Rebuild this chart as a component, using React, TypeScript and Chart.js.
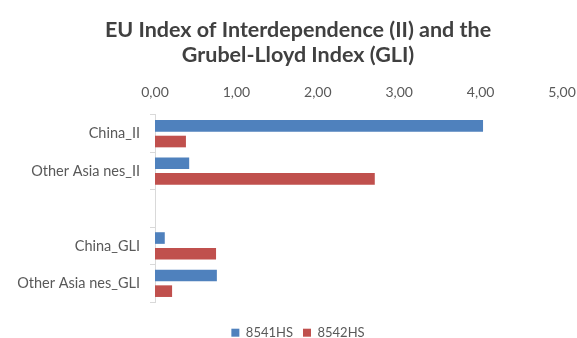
import React, { useEffect, useRef } from "react";
import { Chart, registerables } from "chart.js";

Chart.register(...registerables);

const categories = ["China_II", "Other Asia nes_II", "", "China_GLI", "Other Asia nes_GLI"];
const series8541 = [4.03, 0.42, null, 0.12, 0.76];
const series8542 = [0.38, 2.7, null, 0.75, 0.21];
const seriesNames = ["8541HS", "8542HS"];
const titleLines = ["EU Index of Interdependence (II) and the", "Grubel-Lloyd Index (GLI)"];
const xTickValues = [0, 1, 2, 3, 4, 5];

const shiftPlugin = {
  id: "shiftHeaderFooter",
  afterLayout(chart: any) {
    for (const b of [chart.titleBlock, chart.legend]) {
      if (b) {
        b.left += 10;
        b.right += 10;
      }
    }
  },
};

export default function App() {
  const ref = useRef<HTMLCanvasElement | null>(null);
  useEffect(() => {
    document.body.style.margin = "0";
    const ctx = ref.current!;
    const chart = new Chart(ctx, {
      type: "bar",
      plugins: [shiftPlugin],
      data: {
        labels: categories,
        datasets: [
          { label: seriesNames[0], data: series8541, backgroundColor: "#4F81BD", categoryPercentage: 0.84, barPercentage: 0.74 },
          { label: seriesNames[1], data: series8542, backgroundColor: "#C0504D", categoryPercentage: 0.84, barPercentage: 0.74 },
        ],
      },
      options: {
        indexAxis: "y",
        animation: false,
        responsive: false,
        maintainAspectRatio: false,
        layout: { padding: { left: 14, right: 15, top: 0, bottom: 0 } },
        plugins: {
          title: {
            display: true,
            text: titleLines,
            color: "#404040",
            font: { family: "Lato", size: 21.5, weight: "bold", lineHeight: 1.19 },
            padding: { top: 17, bottom: 2 },
          },
          legend: {
            position: "bottom",
            maxHeight: 36,
            title: { display: true, text: " ", font: { size: 1 }, padding: { top: 13, bottom: 0 } },
            labels: {
              boxWidth: 8,
              boxHeight: 8,
              color: "#595959",
              font: { family: "Lato", size: 13 },
              padding: 10,
            },
          },
          tooltip: { enabled: false },
        },
        scales: {
          x: {
            position: "top",
            min: xTickValues[0],
            max: xTickValues[xTickValues.length - 1],
            afterFit: (s: any) => { s.paddingLeft = 0; s.paddingRight = 0; },
            ticks: {
              stepSize: 1,
              color: "#595959",
              font: { family: "Lato", size: 14 },
              padding: 14,
              callback: (v: any) => Number(v).toFixed(2).replace(".", ","),
            },
            grid: { display: false, drawTicks: false },
            border: { display: false },
          },
          y: {
            afterFit: (s: any) => { s.width = 141; },
            ticks: { color: "#595959", font: { family: "Lato", size: 14.5 }, padding: 10 },
            grid: { offset: true, drawOnChartArea: false, tickLength: 5, color: "#D9D9D9" },
            border: { display: true, color: "#D9D9D9" },
          },
        },
      },
    });
    return () => chart.destroy();
  }, []);
  return <canvas ref={ref} width={577} height={338} style={{ display: "block" }} />;
}
